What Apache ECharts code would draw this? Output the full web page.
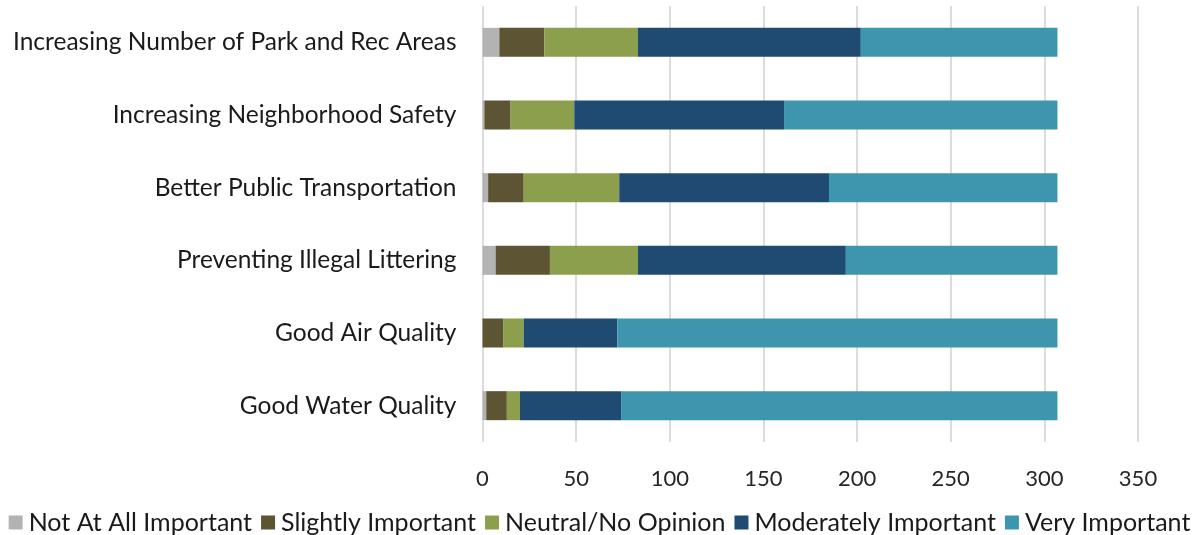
<!DOCTYPE html>
<html>
<head>
<meta charset="utf-8">
<script src="https://cdn.jsdelivr.net/npm/echarts@6/dist/echarts.min.js"></script>
<style>
html,body{margin:0;padding:0;background:#fff;}
#c{width:1199px;height:535px;}
</style>
</head>
<body>
<div id="c"></div>
<script>
var categories = ["Increasing Number of Park and Rec Areas","Increasing Neighborhood Safety","Better Public Transportation","Preventing Illegal Littering","Good Air Quality","Good Water Quality"];
var seriesNames = ["Not At All Important","Slightly Important","Neutral/No Opinion","Moderately Important","Very Important"];
var notAtAll   = [9, 1, 3, 7, 0, 2];
var slightly   = [24, 14, 19, 29, 11, 11];
var neutral    = [50, 34, 51, 47, 11, 7];
var moderately = [119, 112, 112, 111, 50, 54];
var very       = [105, 146, 122, 113, 235, 233];
var xTicks = [0, 50, 100, 150, 200, 250, 300, 350];
var colors = ["#B3B3B3","#5D5434","#8B9F4C","#1F4B73","#3E96AE"];

var values = [notAtAll, slightly, neutral, moderately, very];
var chart = echarts.init(document.getElementById('c'));
var font = "Lato, 'Liberation Sans', sans-serif";
chart.setOption({
  animation:false,
  textStyle:{fontFamily:font},
  grid:{left:482.5,right:61,top:6,bottom:93,containLabel:false},
  xAxis:{type:'value',min:xTicks[0],max:xTicks[xTicks.length-1],interval:50,
    axisLine:{show:false},axisTick:{show:false},
    axisLabel:{fontSize:22,color:'#262626',margin:26,fontFamily:font},
    splitLine:{show:true,lineStyle:{color:'#dcdcdc',width:2}}},
  yAxis:{type:'category',data:categories,inverse:true,
    axisLine:{show:false},axisTick:{show:false},
    axisLabel:{fontSize:24.5,color:'#1a1a1a',margin:26,fontFamily:font,padding:[14,0,0,0]}},
  legend:{top:505,left:'center',itemWidth:14,itemHeight:14,itemGap:9,icon:'rect',
    textStyle:{fontSize:25,color:'#1a1a1a',fontFamily:font,padding:[0,0,0,1]},
    data:seriesNames},
  series:seriesNames.map(function(n,i){
    return {name:n,type:'bar',stack:'total',data:values[i],barWidth:29,
      itemStyle:{color:colors[i]}};
  })
});
</script>
</body>
</html>
